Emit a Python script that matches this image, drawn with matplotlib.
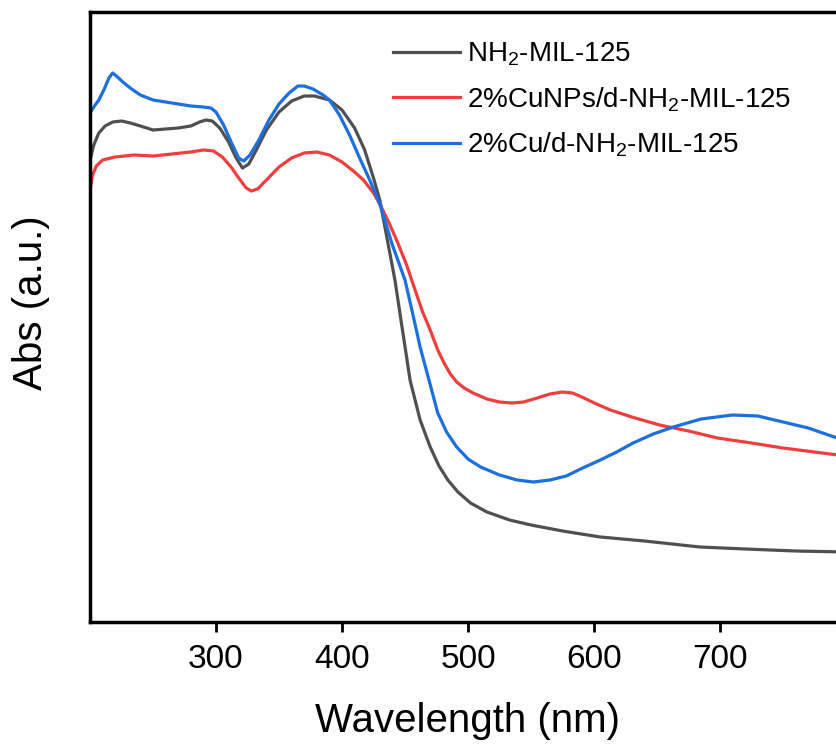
import matplotlib
matplotlib.use("Agg")
import matplotlib.pyplot as plt

plt.rcParams['font.family'] = ['Liberation Sans', 'DejaVu Sans']
plt.rcParams['mathtext.fontset'] = 'custom'
plt.rcParams['mathtext.rm'] = 'Liberation Sans'
plt.rcParams['mathtext.it'] = 'Liberation Sans:italic'
plt.rcParams['mathtext.bf'] = 'Liberation Sans:bold'

# Data (absorbance, arbitrary units)
wl_nh2 = [200, 203, 207, 212, 218, 225, 232, 240, 250, 260, 270, 280, 287, 292, 297, 303, 310, 316, 321, 326,
          332, 340, 350, 360, 370, 378, 390, 400, 410, 418, 425, 430, 436, 442, 448, 454, 462, 470, 477, 484,
          492, 502, 515, 533, 550, 575, 605, 640, 684, 720, 760, 800]
abs_nh2 = [4.62, 4.77, 4.89, 4.96, 5.00, 5.01, 4.99, 4.96, 4.92, 4.93, 4.94, 4.96, 5.00, 5.02, 5.01, 4.94,
           4.80, 4.64, 4.54, 4.58, 4.72, 4.92, 5.10, 5.21, 5.26, 5.26, 5.22, 5.12, 4.94, 4.72, 4.44, 4.22,
           3.82, 3.42, 2.92, 2.42, 2.02, 1.75, 1.56, 1.42, 1.30, 1.19, 1.10, 1.02, 0.97, 0.91, 0.85, 0.81,
           0.75, 0.73, 0.71, 0.70]

wl_cunp = [200, 202, 205, 210, 220, 235, 250, 265, 280, 290, 298, 305, 312, 318, 324, 328, 333, 340, 350, 360,
           370, 380, 390, 400, 410, 417, 425, 430, 437, 444, 451, 458, 464, 470, 476, 481, 486, 491, 497, 504,
           515, 525, 535, 544, 555, 565, 575, 583, 592, 602, 613, 630, 652, 675, 698, 725, 750, 775, 800]
abs_cunp = [4.32, 4.47, 4.56, 4.62, 4.65, 4.67, 4.66, 4.68, 4.70, 4.72, 4.71, 4.65, 4.55, 4.44, 4.34, 4.31,
            4.33, 4.42, 4.55, 4.64, 4.69, 4.70, 4.67, 4.60, 4.50, 4.42, 4.29, 4.18, 4.00, 3.80, 3.58, 3.32,
            3.10, 2.92, 2.72, 2.59, 2.48, 2.40, 2.34, 2.29, 2.23, 2.20, 2.19, 2.20, 2.24, 2.28, 2.30, 2.29,
            2.24, 2.18, 2.12, 2.05, 1.97, 1.91, 1.84, 1.79, 1.74, 1.70, 1.66]

wl_cu = [200, 203, 207, 211, 215, 218, 221, 226, 233, 240, 250, 260, 270, 280, 290, 296, 300, 306, 312, 318,
         322, 327, 334, 342, 350, 358, 365, 370, 377, 385, 390, 398, 406, 414, 422, 430, 440, 450, 456, 462,
         469, 476, 483, 491, 500, 510, 525, 539, 552, 565, 578, 591, 605, 618, 631, 647, 663, 685, 710, 730,
         750, 770, 793, 800]
abs_cu = [5.09, 5.15, 5.22, 5.32, 5.44, 5.49, 5.46, 5.40, 5.33, 5.27, 5.22, 5.20, 5.18, 5.16, 5.15, 5.14,
          5.10, 4.97, 4.80, 4.64, 4.61, 4.67, 4.82, 5.02, 5.18, 5.29, 5.36, 5.36, 5.33, 5.27, 5.22, 5.07,
          4.87, 4.64, 4.42, 4.18, 3.77, 3.42, 3.09, 2.75, 2.42, 2.09, 1.90, 1.75, 1.63, 1.55, 1.47, 1.42,
          1.40, 1.42, 1.46, 1.54, 1.62, 1.70, 1.79, 1.88, 1.95, 2.03, 2.07, 2.06, 2.00, 1.94, 1.84, 1.80]

labels = ["NH$_2$-MIL-125", "2%CuNPs/d-NH$_2$-MIL-125", "2%Cu/d-NH$_2$-MIL-125"]
colors = ["#505050", "#ef3e3e", "#1b6fde"]
xticks = [300, 400, 500, 600, 700]

W, H = 837, 745
fig = plt.figure(figsize=(W / 100, H / 100), dpi=100)
ax = fig.add_axes([90 / W, (H - 622) / H, (846 - 90) / W, 610 / H])

for x, y, lab, c in zip([wl_nh2, wl_cunp, wl_cu], [abs_nh2, abs_cunp, abs_cu], labels, colors):
    ax.plot(x, y, color=c, lw=2.3, label=lab)

ax.set_xlim(200, 800)
ax.set_ylim(0, 6.10)
ax.set_xticks(xticks)
ax.set_xticklabels([str(t) for t in xticks])
ax.set_yticks([])
ax.tick_params(axis='x', direction='out', length=7, width=2, pad=8.5, labelsize=24)
for s in ax.spines.values():
    s.set_linewidth(2.5)

ax.set_xlabel("Wavelength (nm)", fontsize=29, labelpad=20)
ax.set_ylabel("Abs (a.u.)", fontsize=29)
ax.yaxis.set_label_coords(-40 / (846 - 90), (622 - 303) / 610)

leg = ax.legend(loc='upper left', bbox_to_anchor=(393 / W, (H - 41) / H), bbox_transform=fig.transFigure,
                frameon=False, fontsize=20, handlelength=2.4, handletextpad=0.25, labelspacing=0.6,
                borderpad=0, borderaxespad=0)

fig.savefig("out.png", dpi=100)
